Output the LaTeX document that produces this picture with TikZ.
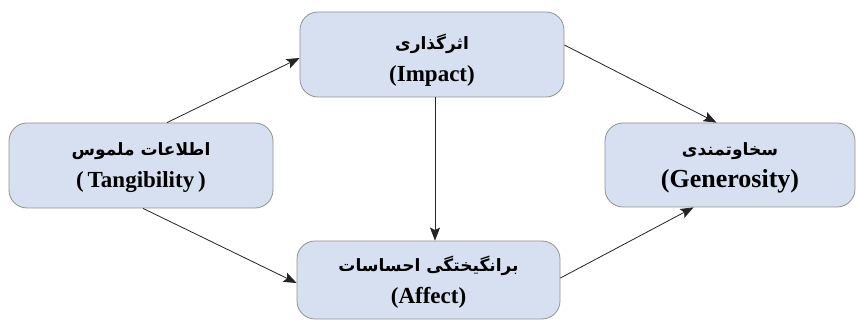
\documentclass[tikz,border=0pt]{standalone}
\usepackage{fontspec}
\setmainfont{Liberation Serif}
\newfontfamily\arabicfont[Script=Arabic]{DejaVu Sans}
\TeXXeTstate=1
\usetikzlibrary{arrows.meta,calc}
\definecolor{boxfill}{RGB}{214,224,240}
\definecolor{boxline}{RGB}{145,145,145}
\definecolor{arrowcol}{RGB}{35,35,35}
\tikzset{
  fbox/.style={draw=boxline, line width=0.8pt, fill=boxfill, rounded corners=18pt,
    inner sep=0pt},
  txt/.style={align=center, inner sep=0pt, font=\bfseries\fontsize{23}{32}\selectfont},
  conn/.style={draw=arrowcol, line width=0.8pt,
    -{Stealth[length=13pt,width=10pt,inset=2.5pt]}},
}
\newcommand{\fa}[1]{{\arabicfont\bfseries\fontsize{17}{32}\selectfont\beginR #1\endR}}
\begin{document}
\begin{tikzpicture}[x=1pt,y=-1pt]
\useasboundingbox (0,0) rectangle (856,320);
\node[fbox, minimum width=264pt, minimum height=85pt] (L) at (141,165.5) {};
\node[fbox, minimum width=264pt, minimum height=85pt] (T) at (432,54.5) {};
\node[fbox, minimum width=263pt, minimum height=78pt] (B) at (428.5,280) {};
\node[fbox, minimum width=250pt, minimum height=84pt] (R) at (730,165) {};
\node[txt] (Lt) at ([yshift=-2pt]L.center) {\fa{اطلاعات ملموس}\\(\,Tangibility\,)};
\node[txt] (Tt) at ([yshift=-6pt]T.center) {\fa{اثرگذاری}\\(Impact)};
\node[txt] (Bt) at ([yshift=-2pt]B.center) {\fa{برانگیختگی احساسات}\\(Affect)};
\node[txt, font=\bfseries\fontsize{26}{32}\selectfont] (Rt) at ([yshift=-3pt]R.center) {\fa{سخاوتمندی}\\(Generosity)};
\draw[conn] ([xshift=26pt]L.north) -- ([yshift=-3.5pt]T.west);
\draw[conn] ([xshift=2pt]L.south) -- ([yshift=-3pt]B.west);
\draw[conn] ([yshift=9.5pt]T.east) -- ([xshift=-13.5pt]R.north);
\draw[conn] ([yshift=2pt]B.east) -- ([xshift=-36.5pt]R.south);
\draw[conn] ([xshift=3pt]T.south) -- ([xshift=6.5pt]B.north);
\end{tikzpicture}
\end{document}
